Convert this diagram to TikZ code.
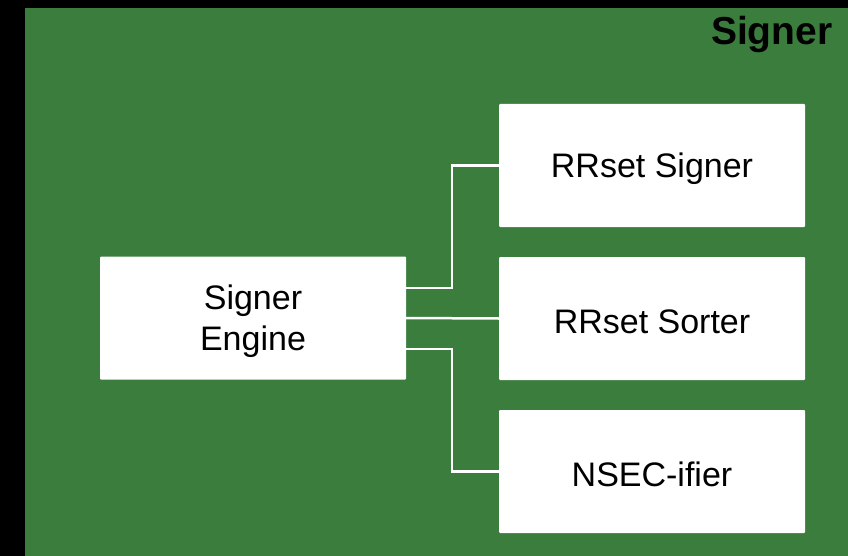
\documentclass[tikz,border=0pt]{standalone}
\usepackage{fontspec}
\setmainfont{Liberation Sans}
\definecolor{signergreen}{RGB}{58,125,61}
\begin{document}
\begin{tikzpicture}[x=1pt,y=-1pt,
	part/.style={fill=white,rounded corners=1pt,minimum width=306pt,minimum height=123pt,inner sep=0pt,
		label={[align=center,yshift=-3pt,font=\fontsize{34}{41}\selectfont]center:#1}},
	wire/.style={draw=white,line width=2.5pt}]
	\useasboundingbox (0,0) rectangle (848,556);
	\fill [black] (0,0) rectangle (848,556);
	\fill [signergreen] (25,8) rectangle (848,556);
	\node [anchor=base east,font=\fontsize{39}{40}\selectfont\bfseries] (title) at (836,45) {Signer};

	\node [part={Signer\\Engine}] (engine) at (253,318) {};
	\node [part={RRset Signer}] (rsigner) at (652,165.5) {};
	\node [part={RRset Sorter}] (rsorter) at (652,318.5) {};
	\node [part={NSEC-ifier}] (nsec) at (652,471.5) {};

	\draw [wire] ([yshift=30pt]engine.east) -- ++(46,0) |- (rsigner.west);
	\draw [wire] (engine.east) -- (rsorter.west);
	\draw [wire] ([yshift=-31pt]engine.east) -- ++(46,0) |- (nsec.west);
\end{tikzpicture}
\end{document}
